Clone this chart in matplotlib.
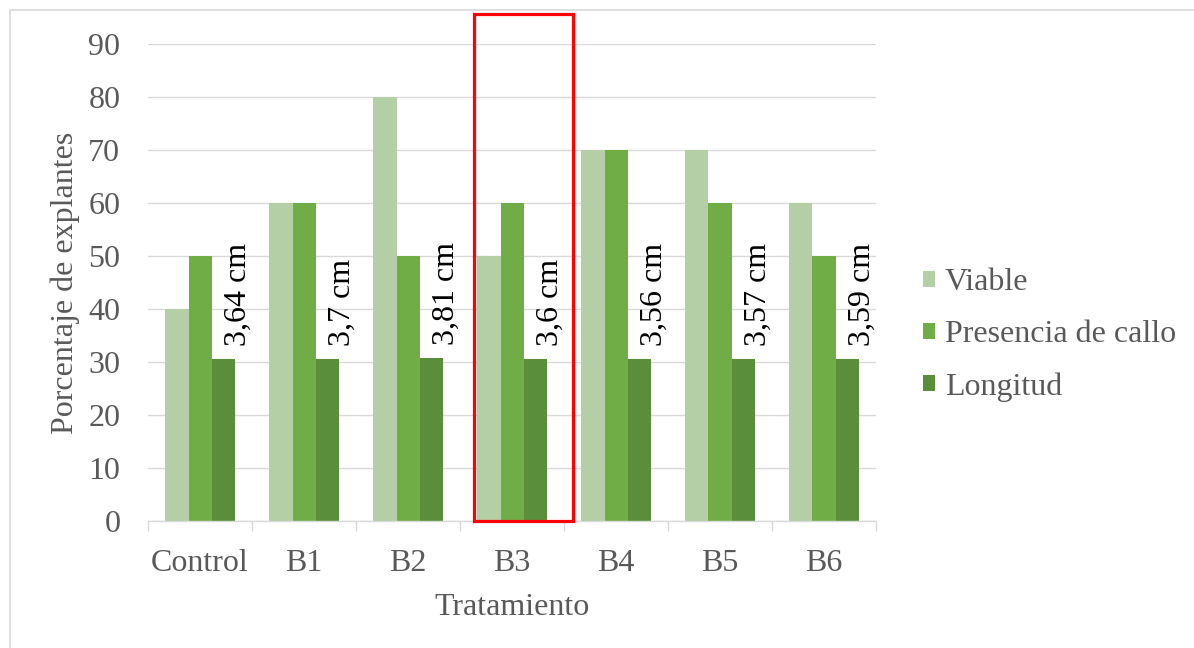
import matplotlib
matplotlib.use('Agg')
import matplotlib.pyplot as plt
import matplotlib.patches as mpatches
import numpy as np

# -- Data --------------------------------------------------------------
tratamientos  = ["Control", "B1", "B2", "B3", "B4", "B5", "B6"]
viable        = [40, 60, 80, 50, 70, 70, 60]
callo         = [50, 60, 50, 60, 70, 60, 50]
longitud_bar  = [30.6, 30.6, 30.8, 30.6, 30.6, 30.6, 30.6]
longitud_cm   = ["3,64 cm", "3,7 cm", "3,81 cm", "3,6 cm", "3,56 cm", "3,57 cm", "3,59 cm"]
destacado     = "B3"

# -- Colors ------------------------------------------------------------
C_VIABLE = "#B4CFA6"
C_CALLO  = "#70AD47"
C_LONG   = "#5A8E3A"
C_TEXT   = "#595959"
C_GRID   = "#D9D9D9"

plt.rcParams['font.family'] = ['Liberation Serif', 'DejaVu Serif']
FS = 23

fig = plt.figure(figsize=(11.94, 6.48), dpi=100, facecolor='white')
ax = fig.add_axes([0.124, 0.196, 0.6097, 0.736])

x = np.arange(len(tratamientos))
w = 0.222
ax.bar(x - w, viable, width=w, color=C_VIABLE, label="Viable", zorder=2)
ax.bar(x, callo, width=w, color=C_CALLO, label="Presencia de callo", zorder=2)
bars_l = ax.bar(x + w, longitud_bar, width=w, color=C_LONG, label="Longitud", zorder=2)

# rotated length labels next to the Longitud bars
for b, txt in zip(bars_l, longitud_cm):
    ax.annotate(txt, (b.get_x() + b.get_width() / 2 + 0.15, b.get_height()),
                xytext=(0, 9), textcoords='offset points',
                rotation=90, ha='center', va='bottom', fontsize=FS,
                color='black', zorder=3)

ax.set_xlim(-0.5, len(tratamientos) - 0.5)
ax.set_ylim(0, 90)
ax.set_yticks(range(0, 91, 10))
ax.set_xticks(x)
ax.set_xticklabels(tratamientos)
ax.set_xticks(np.arange(-0.5, len(tratamientos), 1), minor=True)
ax.tick_params(axis='x', which='major', length=0, pad=20, labelsize=FS, labelcolor=C_TEXT)
ax.tick_params(axis='x', which='minor', length=7, width=1, color=C_GRID)
ax.tick_params(axis='y', length=0, pad=20, labelsize=FS, labelcolor=C_TEXT)

ax.grid(True, axis='y', color=C_GRID, linewidth=1, zorder=0)
ax.set_axisbelow(True)
for s in ['top', 'right', 'left']:
    ax.spines[s].set_visible(False)
ax.spines['bottom'].set_color(C_GRID)
ax.spines['bottom'].set_linewidth(1)

ax.set_xlabel("Tratamiento", fontsize=FS, color=C_TEXT, labelpad=11)
ax.set_ylabel("Porcentaje de explantes", fontsize=FS, color=C_TEXT, labelpad=6)

# red box around the highlighted treatment
i = tratamientos.index(destacado)
rect = mpatches.Rectangle((i - 0.365, 0), 0.952, 95.7, fill=False,
                          edgecolor='#FF0000', linewidth=2.3,
                          clip_on=False, zorder=5)
ax.add_patch(rect)

ax.legend(loc='center left', bbox_to_anchor=(0.762, 0.483),
          bbox_transform=fig.transFigure, frameon=False, fontsize=FS,
          labelcolor=C_TEXT, handlelength=0.4, handleheight=0.4,
          handletextpad=0.3, labelspacing=0.72, borderaxespad=0)

# chart area outline
fig.patches.append(mpatches.Rectangle((10 / 1194, -0.1), 1.2, 1.1 - 10 / 648,
                                      transform=fig.transFigure, fill=False,
                                      edgecolor=C_GRID, linewidth=1.2))

plt.savefig("out.png", dpi=100, facecolor='white')
plt.close()
